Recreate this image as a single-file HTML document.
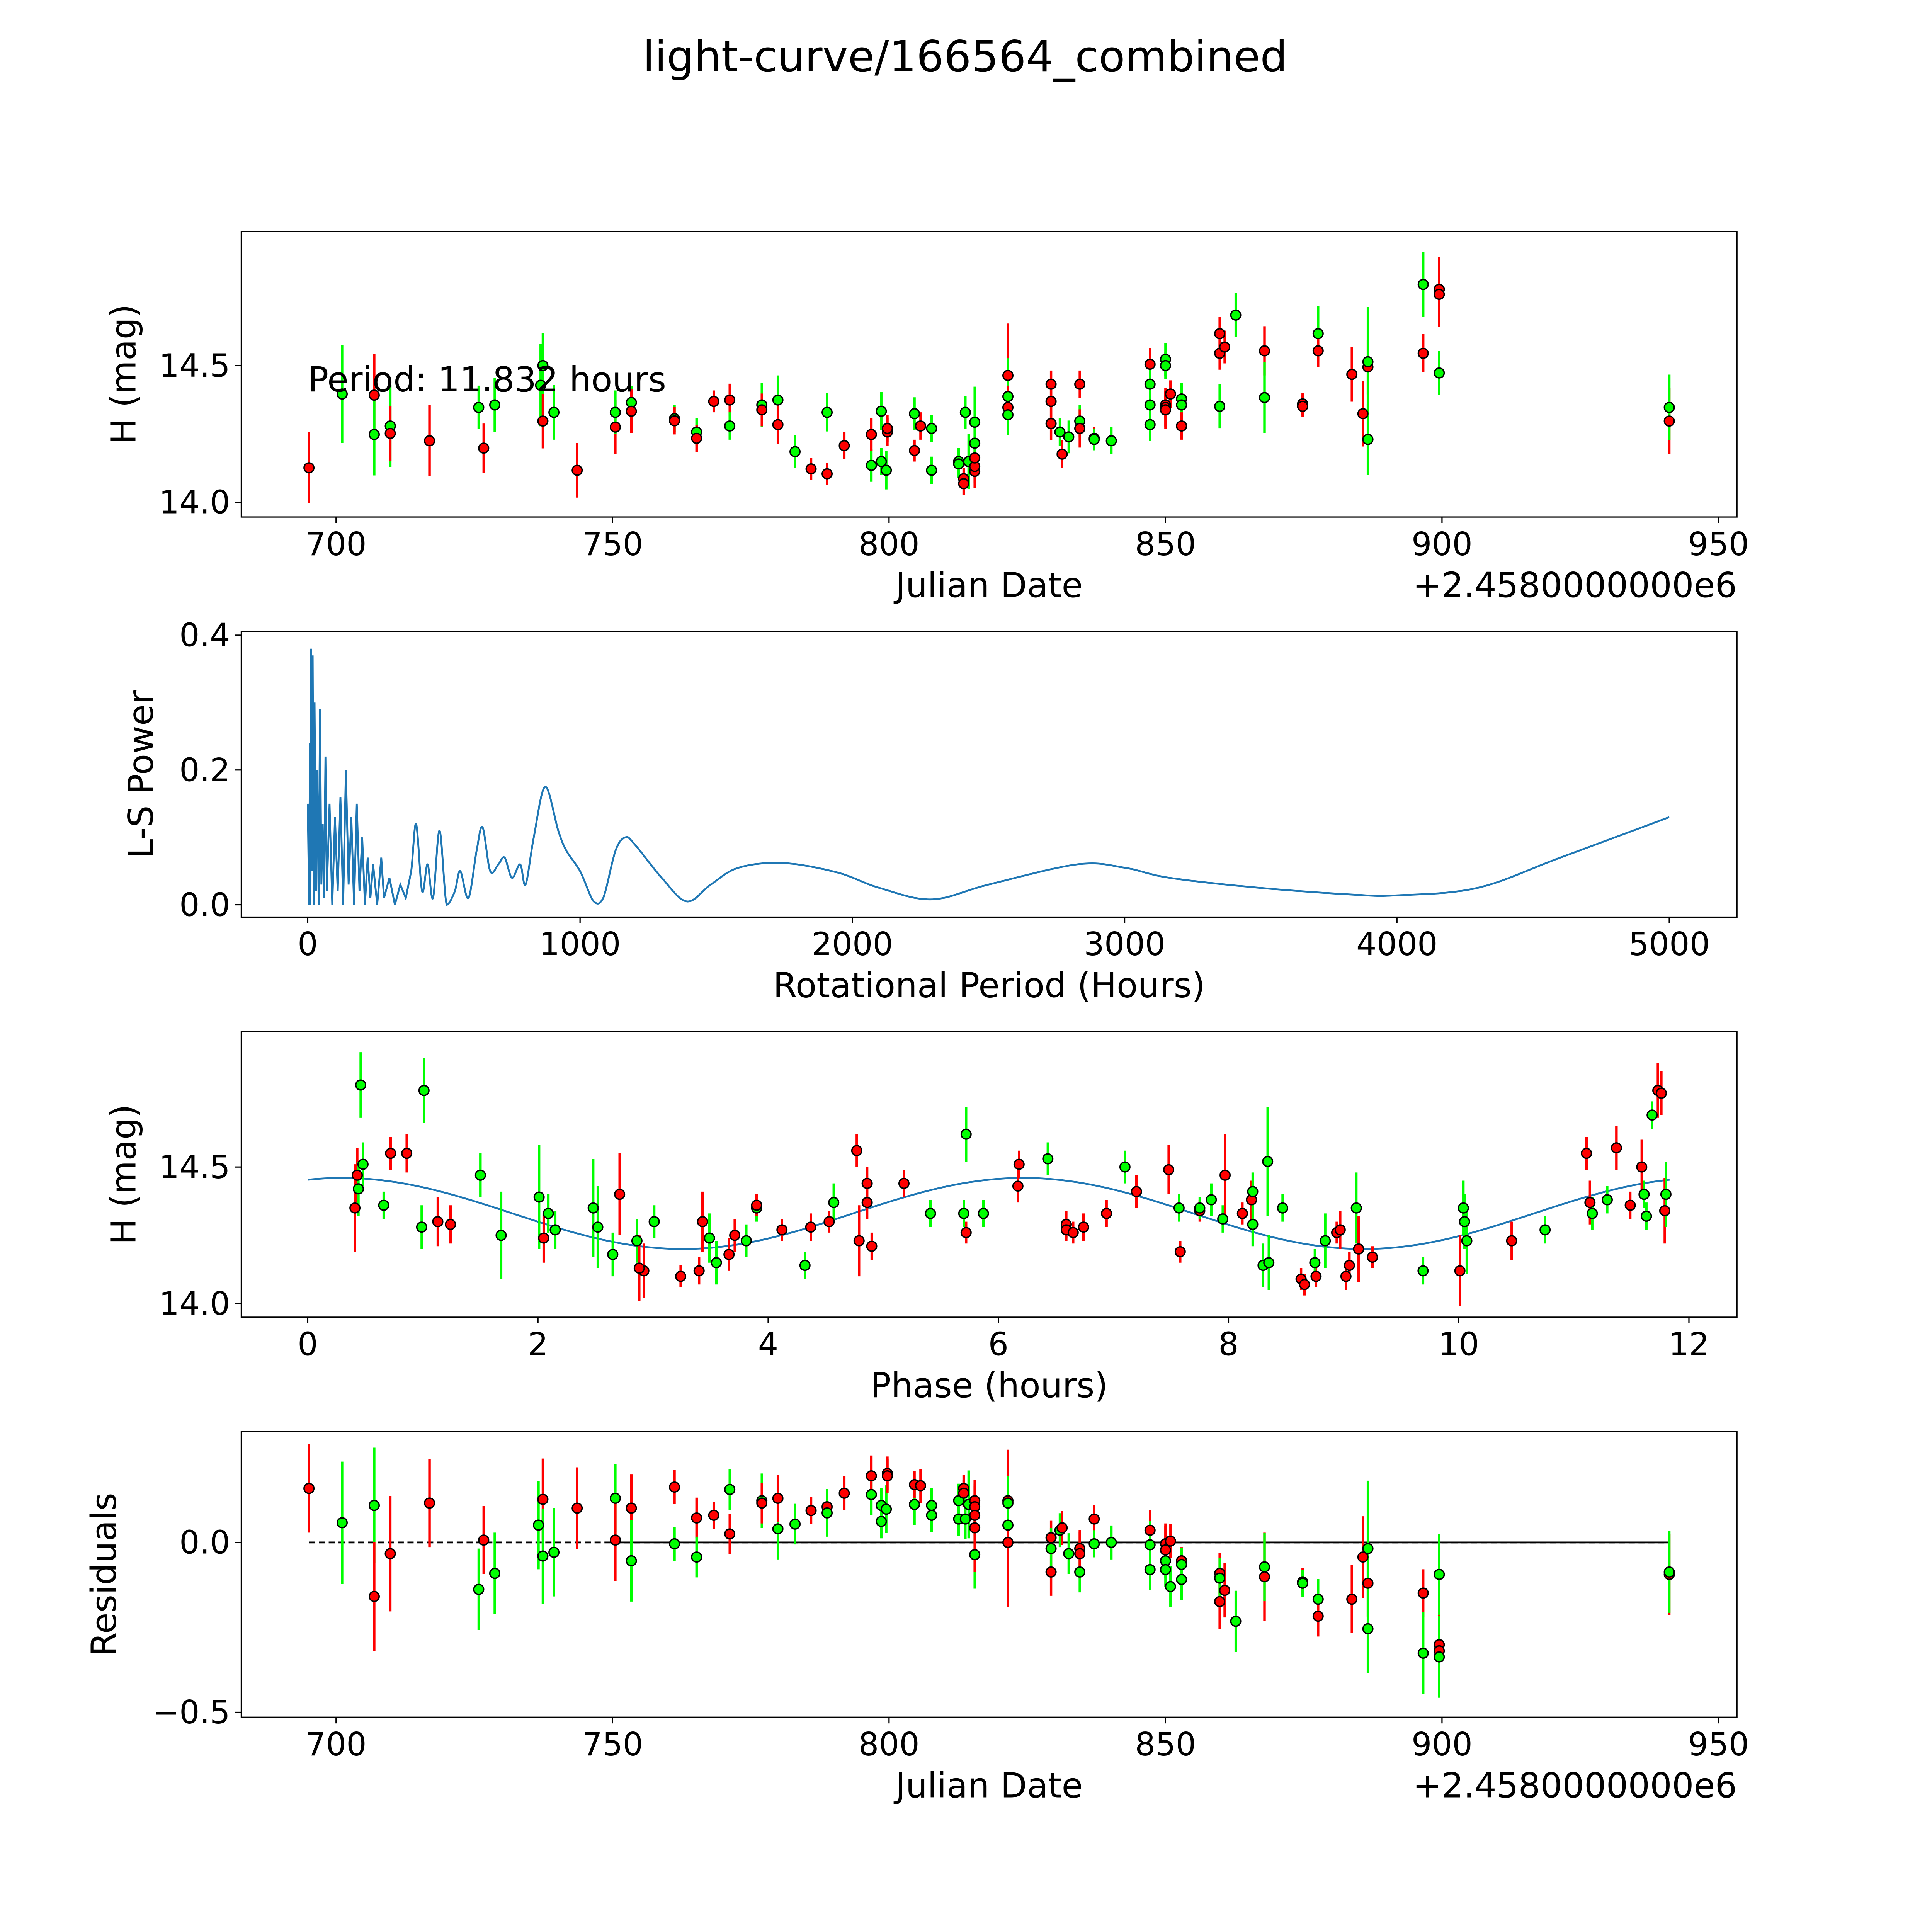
<!DOCTYPE html>
<html><head><meta charset="utf-8"><style>
html,body{margin:0;padding:0;background:#fff;overflow:hidden;width:5400px;height:5400px}
svg{display:block}
text{font-family:"DejaVu Sans","Liberation Sans",sans-serif;fill:#000}
</style></head><body>
<svg id="fig" xmlns="http://www.w3.org/2000/svg" width="5400" height="5400" style="width:5400px;height:5400px" viewBox="0 0 1695 1695">
<rect width="1695" height="1695" fill="#fff"/>
<text x="784" y="58" font-size="35" text-anchor="middle">light-curve/166564_combined</text>
<g id="g1"></g>
<g id="g2"></g>
<g id="g3"></g>
<g id="g4"></g>
</svg>
<script>
// ---- Light curve data ----
const lcJd=[695.1,701.1,706.9,706.9,709.8,709.8,716.9,725.8,726.7,728.7,737.0,737.4,737.4,739.4,743.6,750.5,750.5,753.4,753.4,761.2,761.2,765.2,765.2,768.3,771.2,771.2,777.0,777.0,779.9,779.9,783.0,785.9,788.8,788.8,791.9,796.8,796.8,798.6,798.6,799.5,799.7,799.7,804.6,804.6,805.7,807.7,807.7,812.6,812.6,813.5,813.5,813.8,814.4,815.5,815.5,815.5,815.5,815.5,821.5,821.5,821.5,821.5,829.3,829.3,829.3,830.9,831.3,832.5,834.5,834.5,834.5,837.1,837.1,840.2,847.2,847.2,847.2,847.2,850.0,850.0,850.0,850.0,850.0,850.9,852.9,852.9,852.9,859.8,859.8,859.8,860.7,862.7,867.9,867.9,874.8,874.8,877.6,877.6,883.7,885.7,886.6,886.6,886.6,896.6,896.6,899.5,899.5,899.5,941.1,941.1];
const lcMag=[14.126,14.396,14.392,14.248,14.279,14.252,14.225,14.347,14.198,14.356,14.428,14.5,14.297,14.329,14.117,14.275,14.329,14.365,14.333,14.306,14.298,14.257,14.234,14.369,14.374,14.279,14.356,14.338,14.374,14.284,14.185,14.122,14.104,14.329,14.207,14.135,14.248,14.149,14.333,14.117,14.257,14.27,14.324,14.189,14.279,14.27,14.117,14.149,14.14,14.086,14.068,14.329,14.149,14.113,14.131,14.162,14.216,14.293,14.464,14.387,14.347,14.32,14.432,14.369,14.288,14.257,14.176,14.239,14.297,14.432,14.27,14.234,14.23,14.225,14.505,14.432,14.356,14.284,14.523,14.5,14.356,14.347,14.338,14.396,14.378,14.356,14.279,14.617,14.545,14.351,14.568,14.685,14.554,14.383,14.36,14.351,14.617,14.554,14.468,14.324,14.495,14.514,14.23,14.797,14.545,14.779,14.761,14.473,14.297,14.347];
const lcErr=[0.13,0.18,0.15,0.15,0.15,0.1,0.13,0.08,0.09,0.1,0.15,0.12,0.1,0.1,0.1,0.1,0.08,0.06,0.08,0.05,0.05,0.05,0.05,0.04,0.06,0.05,0.08,0.06,0.09,0.07,0.06,0.04,0.04,0.07,0.05,0.06,0.06,0.05,0.07,0.07,0.05,0.05,0.06,0.04,0.05,0.05,0.05,0.05,0.05,0.04,0.04,0.06,0.1,0.06,0.06,0.06,0.08,0.13,0.19,0.14,0.08,0.07,0.05,0.07,0.06,0.05,0.05,0.06,0.06,0.05,0.07,0.04,0.04,0.05,0.06,0.07,0.08,0.06,0.06,0.05,0.05,0.07,0.07,0.05,0.06,0.04,0.05,0.06,0.06,0.08,0.06,0.08,0.09,0.13,0.04,0.04,0.1,0.06,0.1,0.12,0.1,0.2,0.13,0.12,0.07,0.12,0.12,0.08,0.12,0.12];
const lcCol=["r","g","r","g","g","r","r","g","r","g","g","g","r","g","r","r","g","g","r","g","r","g","r","r","r","g","g","r","g","r","g","r","r","g","r","g","r","g","g","g","r","r","g","r","r","g","g","g","g","r","r","g","g","r","r","r","g","g","r","g","r","g","r","r","r","g","r","g","g","r","r","r","g","g","r","g","g","g","g","g","r","r","r","r","g","g","r","r","r","g","r","g","r","g","r","r","g","r","r","r","r","g","g","g","r","r","r","g","r","g"];
// ---- Periodogram data ----
const perHours=[0,5,8,10,12,15,18,22,25,30,35,40,45,50,55,60,65,70,80,90,100,110,120,130,140,150,160,170,180,190,200,210,220,230,240,255,270,280,300,320,340,360,380,398,420,440,460,484,510,540,560,590,620,642,670,700,723,750,780,800,830,872,920,950,1000,1050,1085,1130,1166,1200,1300,1392,1480,1582,1745,1944,2100,2292,2500,2826,3000,3165,3500,3843,4000,4295,4600,5000];
const perPower=[0.15,0,0.24,0,0.38,0.05,0.37,0,0.3,0.02,0.2,0,0.29,0.03,0.12,0.01,0.22,0.02,0.15,0,0.13,0.02,0.16,0,0.2,0.03,0.13,0,0.15,0.02,0.1,0,0.07,0.01,0.06,0,0.07,0.01,0.04,0,0.03,0.01,0.05,0.12,0.02,0.06,0.01,0.11,0,0.02,0.05,0.01,0.08,0.115,0.05,0.06,0.07,0.04,0.06,0.03,0.1,0.175,0.11,0.08,0.05,0.005,0.01,0.08,0.1,0.09,0.04,0.005,0.03,0.055,0.062,0.048,0.025,0.008,0.03,0.06,0.055,0.04,0.025,0.015,0.014,0.025,0.07,0.13];
// ---- Phase-folded data ----
const phHours=[0.46,0.43,0.44,0.48,0.41,0.66,0.72,0.86,1.01,0.99,1.13,1.24,1.50,1.68,2.01,2.05,2.09,2.15,2.48,2.52,2.71,2.65,2.86,2.92,2.88,3.01,3.24,3.40,3.43,3.49,3.55,3.66,3.71,3.81,3.90,3.90,4.32,4.12,4.37,4.53,4.57,4.77,4.79,4.86,4.86,4.90,5.18,5.41,5.72,5.72,5.70,5.87,6.17,6.18,6.43,6.59,6.59,6.65,6.74,6.94,7.10,7.20,7.48,7.57,7.58,7.75,7.75,7.85,7.97,7.95,8.12,8.20,8.21,8.21,8.30,8.35,8.34,8.47,8.63,8.66,8.76,8.75,8.84,8.94,8.97,9.02,9.05,9.11,9.13,9.25,9.69,10.04,10.05,10.07,10.01,10.46,10.75,11.11,11.14,11.16,11.29,11.37,11.49,11.61,11.59,11.63,11.68,11.73,11.76,11.79,11.80];
const phMag=[14.80,14.47,14.42,14.51,14.35,14.36,14.55,14.55,14.78,14.28,14.30,14.29,14.47,14.25,14.39,14.24,14.33,14.27,14.35,14.28,14.40,14.18,14.23,14.12,14.13,14.30,14.10,14.12,14.30,14.24,14.15,14.18,14.25,14.23,14.35,14.36,14.14,14.27,14.28,14.30,14.37,14.56,14.23,14.44,14.37,14.21,14.44,14.33,14.26,14.62,14.33,14.33,14.43,14.51,14.53,14.29,14.27,14.26,14.28,14.33,14.50,14.41,14.49,14.35,14.19,14.34,14.35,14.38,14.47,14.31,14.33,14.38,14.41,14.29,14.14,14.15,14.52,14.35,14.09,14.07,14.10,14.15,14.23,14.26,14.27,14.10,14.14,14.35,14.20,14.17,14.12,14.35,14.30,14.23,14.12,14.23,14.27,14.55,14.37,14.33,14.38,14.57,14.36,14.40,14.50,14.32,14.69,14.78,14.77,14.34,14.40];
const phCol=["g","r","g","g","r","g","r","r","g","g","r","r","g","g","g","r","g","g","g","g","r","g","g","r","r","g","r","r","r","g","g","r","r","g","g","r","g","r","r","r","g","r","r","r","r","r","r","g","r","g","g","g","r","r","g","r","r","r","r","r","g","r","r","g","r","r","g","g","r","g","r","r","g","g","g","g","g","g","r","r","r","g","g","r","r","r","r","g","r","r","g","g","g","g","r","r","g","r","r","g","g","r","r","g","r","g","g","r","r","r","g"];
const phErr=[0.12,0.1,0.1,0.08,0.16,0.05,0.06,0.07,0.12,0.08,0.09,0.07,0.08,0.16,0.19,0.09,0.07,0.07,0.18,0.15,0.15,0.08,0.08,0.1,0.12,0.06,0.04,0.05,0.11,0.09,0.08,0.06,0.06,0.06,0.05,0.04,0.05,0.04,0.05,0.04,0.07,0.06,0.13,0.06,0.06,0.05,0.05,0.05,0.04,0.1,0.05,0.05,0.06,0.05,0.06,0.05,0.04,0.04,0.05,0.05,0.06,0.06,0.09,0.05,0.04,0.04,0.04,0.06,0.15,0.05,0.04,0.07,0.07,0.08,0.08,0.1,0.2,0.05,0.04,0.04,0.04,0.05,0.1,0.04,0.07,0.05,0.05,0.13,0.12,0.04,0.05,0.1,0.1,0.12,0.13,0.07,0.05,0.06,0.08,0.06,0.05,0.08,0.05,0.05,0.1,0.05,0.05,0.1,0.08,0.12,0.12];
// fit model parameters: mean, amplitude, phase offset (h), half-period (h)
const fitParams=[14.33,0.13,0.3,5.916];
// ---- Residuals data ----
const resJd=[695.1,701.1,706.9,706.9,709.8,716.9,725.8,726.7,728.7,736.6,737.4,737.4,739.4,743.6,750.5,750.5,753.4,753.4,761.2,761.2,765.2,765.2,768.3,771.2,771.2,777.0,777.0,779.9,779.9,783.0,785.9,788.8,788.8,791.9,796.8,796.8,798.6,798.6,799.5,799.7,799.7,804.6,804.6,805.7,807.7,807.7,812.6,812.6,813.5,813.5,813.8,814.4,815.5,815.5,815.5,815.5,815.5,821.5,821.5,821.5,821.5,829.3,829.3,829.3,830.9,831.3,832.5,834.5,834.5,834.5,837.1,837.1,840.2,847.2,847.2,847.2,850.0,850.0,850.0,850.0,850.9,850.9,852.9,852.9,852.9,859.8,859.8,859.8,860.7,862.7,867.9,867.9,874.8,874.8,877.6,877.6,883.7,885.7,886.6,886.6,886.6,896.6,896.6,899.5,899.5,899.5,899.5,941.1,941.1];
const resVal=[0.159,0.058,0.109,-0.159,-0.033,0.116,-0.138,0.007,-0.091,0.051,0.127,-0.04,-0.029,0.101,0.13,0.007,0.101,-0.054,0.163,-0.004,0.072,-0.043,0.08,0.025,0.156,0.123,0.116,0.04,0.13,0.054,0.094,0.105,0.087,0.145,0.141,0.196,0.062,0.109,0.098,0.203,0.196,0.112,0.17,0.167,0.109,0.08,0.123,0.069,0.159,0.145,0.069,0.112,0.123,0.105,0.08,-0.036,0.043,0.123,0.051,0.0,0.116,0.014,-0.087,-0.018,0.036,0.043,-0.033,-0.087,-0.018,-0.033,0.069,-0.004,0.0,0.036,-0.007,-0.08,-0.004,-0.054,-0.08,-0.022,0.004,-0.13,-0.054,-0.065,-0.109,-0.091,-0.174,-0.105,-0.141,-0.232,-0.101,-0.072,-0.116,-0.12,-0.167,-0.217,-0.167,-0.043,-0.12,-0.018,-0.254,-0.149,-0.326,-0.301,-0.319,-0.337,-0.094,-0.094,-0.087];
const resCol=["r","g","g","r","r","r","g","r","g","g","r","g","g","r","g","r","r","g","r","g","r","g","r","r","g","g","r","g","r","g","r","r","g","r","g","r","g","g","g","r","r","g","r","r","g","g","g","g","r","r","g","g","r","r","r","g","r","r","g","r","g","r","r","g","g","r","g","g","r","r","r","g","g","r","g","g","r","g","g","r","r","g","r","g","g","r","r","g","r","g","r","g","r","g","g","r","r","r","r","g","g","r","g","r","r","g","g","r","g"];
const resErr=[0.13,0.18,0.17,0.16,0.17,0.13,0.12,0.1,0.12,0.13,0.12,0.14,0.13,0.12,0.1,0.12,0.1,0.12,0.05,0.05,0.06,0.06,0.04,0.06,0.06,0.08,0.06,0.09,0.07,0.06,0.04,0.04,0.07,0.05,0.06,0.06,0.05,0.05,0.07,0.05,0.05,0.06,0.04,0.05,0.05,0.05,0.05,0.05,0.04,0.04,0.06,0.1,0.06,0.06,0.06,0.1,0.13,0.15,0.14,0.19,0.08,0.05,0.07,0.06,0.05,0.05,0.06,0.06,0.05,0.07,0.04,0.04,0.05,0.06,0.07,0.06,0.06,0.05,0.05,0.07,0.05,0.06,0.04,0.05,0.06,0.06,0.08,0.06,0.08,0.09,0.13,0.1,0.04,0.04,0.06,0.06,0.1,0.12,0.1,0.2,0.13,0.07,0.12,0.12,0.08,0.12,0.12,0.12,0.12];

const NS="http://www.w3.org/2000/svg";
function mk(parent,tag,attrs){const e=document.createElementNS(NS,tag);for(const k in attrs)e.setAttribute(k,attrs[k]);parent.appendChild(e);return e;}
function lin(d0,d1,p0,p1){return v=>p0+(v-d0)*(p1-p0)/(d1-d0);}
const COLS={r:"#ff0000",g:"#00ff00"};

function axes(g,box,xs,ys,xt,yt,xl,yl,ylx,offset){
  const f=mk(g,"rect",{x:box[0],y:box[1],width:box[2]-box[0],height:box[3]-box[1],fill:"none",stroke:"#000","stroke-width":1});
  
  
  xt.forEach(t=>{const x=xs(t.v);
    mk(g,"line",{x1:x,x2:x,y1:box[3],y2:box[3]+5,stroke:"#000","stroke-width":1});
    const tx=mk(g,"text",{x:x,y:box[3]+31,"font-size":26,"text-anchor":"middle"});tx.textContent=t.lab;
    
    });
  yt.forEach(t=>{const y=ys(t.v);
    mk(g,"line",{x1:box[0]-5,x2:box[0],y1:y,y2:y,stroke:"#000","stroke-width":1});
    const tx=mk(g,"text",{x:box[0]-9,y:y+9,"font-size":26,"text-anchor":"end"});tx.textContent=t.lab;
    
    });
  const xlab=mk(g,"text",{x:(box[0]+box[2])/2,y:box[3]+65,"font-size":28,"text-anchor":"middle"});xlab.textContent=xl;
  
  
  const cy=(box[1]+box[3])/2;
  const ylab=mk(g,"text",{x:ylx,y:cy,"font-size":28,"text-anchor":"middle",transform:`rotate(-90 ${ylx} ${cy})`});ylab.textContent=yl;
  
  
  if(offset){const o=mk(g,"text",{x:box[2],y:box[3]+65,"font-size":28,"text-anchor":"end"});o.textContent=offset;
    
    }
}
function points(g,xs,ys,X,Y,E,C){
  for(let i=0;i<X.length;i++){
    const c=COLS[C[i]]||"#00ff00";
    const l=mk(g,"line",{x1:xs(X[i]),x2:xs(X[i]),y1:ys(Y[i]-E[i]),y2:ys(Y[i]+E[i]),stroke:c,"stroke-width":2});
    
    
  }
  for(let i=0;i<X.length;i++){
    const c=COLS[C[i]]||"#00ff00";
    const p=mk(g,"circle",{cx:xs(X[i]),cy:ys(Y[i]),r:4,fill:c,stroke:"#000","stroke-width":1.1});
    
    
  }
}
const jdTicks=[700,750,800,850,900,950].map(v=>({v,lab:String(v)}));
function jdX(){return lin(700,950,273,1396);}

// Panel 1
(function(){
  const g=document.getElementById("g1");const box=[196,188,1411,420];
  const xs=jdX(),ys=lin(14.0,14.5,408,297);
  axes(g,box,xs,ys,jdTicks,[{v:14.0,lab:"14.0"},{v:14.5,lab:"14.5"}],"Julian Date","H (mag)",110,"+2.4580000000e6");
  points(g,xs,ys,lcJd,lcMag,lcErr,lcCol);
  const t=mk(g,"text",{x:250,y:318,"font-size":28});t.textContent="Period: 11.832 hours";
  
  
})();
// Panel 2
(function(){
  const g=document.getElementById("g2");const box=[196,513,1411,745];
  const xs=lin(0,5000,250,1356),ys=lin(0,0.4,735,516);
  const xt=[0,1000,2000,3000,4000,5000].map(v=>({v,lab:String(v)}));
  axes(g,box,xs,ys,xt,[0,0.2,0.4].map(v=>({v,lab:v.toFixed(1)})),"Rotational Period (Hours)","L-S Power",124);
  const P=perHours.map((h,i)=>[xs(h),ys(perPower[i])]);
  const y0=ys(0);
  let d=`M${P[0][0]},${P[0][1]}`;
  for(let i=0;i<P.length-1;i++){
    if(perHours[i+1]<=380){d+=` L${P[i+1][0]},${P[i+1][1]}`;continue;}
    const p0=P[Math.max(i-1,0)],p1=P[i],p2=P[i+1],p3=P[Math.min(i+2,P.length-1)];
    const c1=[p1[0]+(p2[0]-p0[0])/6,Math.min(y0,p1[1]+(p2[1]-p0[1])/6)],c2=[p2[0]-(p3[0]-p1[0])/6,Math.min(y0,p2[1]-(p3[1]-p1[1])/6)];
    d+=` C${c1[0]},${c1[1]} ${c2[0]},${c2[1]} ${p2[0]},${p2[1]}`;
  }
  const path=mk(g,"path",{d,fill:"none",stroke:"#1f77b4","stroke-width":1.5});
  
  
})();
// Panel 3
(function(){
  const g=document.getElementById("g3");const box=[196,838,1411,1070];
  const xs=lin(0,12,250,1372),ys=lin(14.0,14.5,1059,948);
  const xt=[0,2,4,6,8,10,12].map(v=>({v,lab:String(v)}));
  axes(g,box,xs,ys,xt,[{v:14.0,lab:"14.0"},{v:14.5,lab:"14.5"}],"Phase (hours)","H (mag)",110);
  let d="";
  for(let k=0;k<=240;k++){const p=11.832*k/240;
    const m=fitParams[0]+fitParams[1]*Math.cos(2*Math.PI*(p-fitParams[2])/fitParams[3]);
    d+=(k?" L":"M")+xs(p)+","+ys(m);}
  const path=mk(g,"path",{d,fill:"none",stroke:"#1f77b4","stroke-width":1.5});
  
  
  points(g,xs,ys,phHours,phMag,phErr,phCol);
})();
// Panel 4
(function(){
  const g=document.getElementById("g4");const box=[196,1163,1411,1395];
  const xs=jdX(),ys=lin(0,-0.5,1253,1391);
  axes(g,box,xs,ys,jdTicks,[{v:0,lab:"0.0"},{v:-0.5,lab:"\u22120.5"}],"Julian Date","Residuals",94,"+2.4580000000e6");
  const dl=mk(g,"line",{x1:xs(695.1),x2:xs(941.1),y1:ys(0),y2:ys(0),stroke:"#000","stroke-width":1.5,"stroke-dasharray":"5 3"});
  
  
  const sl=mk(g,"line",{x1:xs(751),x2:xs(941.1),y1:ys(0),y2:ys(0),stroke:"#000","stroke-width":1.5});
  
  
  points(g,xs,ys,resJd,resVal,resErr,resCol);
})();
</script>
</body></html>
